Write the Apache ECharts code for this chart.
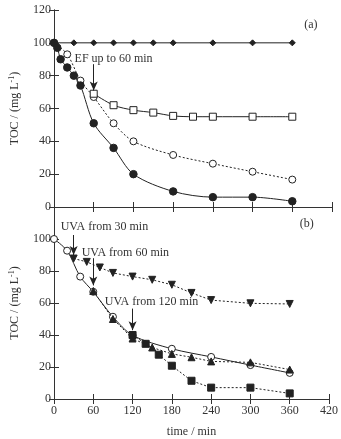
<!doctype html>
<html>
<head>
<meta charset="UTF-8">
<title>TOC decay</title>
<script src="https://cdn.jsdelivr.net/npm/echarts@6/dist/echarts.min.js"></script>
<style>
	html, body { margin: 0; padding: 0; background: #fff; }
	#chart { width: 341px; height: 439px; }
</style>
</head>
<body>
<div id="chart"></div>
<script>
	// panel (a)
	var tDiamond = [0, 30, 60, 90, 120, 150, 180, 240, 300, 360];
	var vDiamond = [100, 100, 100, 100, 100, 100, 100, 100, 100, 100];
	var tFilled = [0, 5, 10, 20, 30, 40, 60, 90, 120, 180, 240, 300, 360];
	var vFilled = [100, 97, 90, 85, 80, 74, 51, 36, 20, 9.5, 6, 6, 3.5];
	var tOpenA = [0, 20, 40, 60, 90, 120, 180, 240, 300, 360];
	var vOpenA = [100, 93, 77, 67, 51, 40, 31.7, 26.4, 21.5, 16.7];
	var tSquareA = [60, 90, 120, 150, 180, 210, 240, 300, 360];
	var vSquareA = [69, 62, 59, 57.5, 55.5, 55, 55, 55, 55];

	// panel (b)
	var tOpenB = [0, 20, 40, 60, 90, 120, 180, 240, 300, 360];
	var vOpenB = [100, 92.7, 76.5, 67, 51.4, 39.8, 31.4, 26.3, 21.2, 16.3];
	var tDown = [30, 50, 70, 90, 120, 150, 180, 210, 240, 300, 360];
	var vDown = [87.8, 85.7, 82.2, 78.8, 76.5, 74.5, 71.4, 66.3, 61.8, 59.8, 59.4];
	var tUp = [60, 90, 120, 150, 180, 210, 240, 300, 360];
	var vUp = [67.5, 50, 37.8, 32.2, 28.2, 26.1, 23.5, 22.9, 18.4];
	var tSquareB = [120, 140, 160, 180, 210, 240, 300, 360];
	var vSquareB = [40, 34.5, 27.7, 20.8, 11.4, 7.1, 7.1, 3.5];

	var xTicks = [0, 60, 120, 180, 240, 300, 360, 420];
	var yTicks = [0, 20, 40, 60, 80, 100, 120];

	// annotations: [x, yFrom, yTo] for arrows, [x, y, text] for labels
	var arrowsA = [[60, 87, 71]];
	var notesA = [[90, 90, 'EF up to 60 min'], [388, 111, '(a)']];
	var arrowsB = [[30, 102.5, 90], [60, 88, 71], [120, 56.5, 43]];
	var notesB = [[77, 107.5, 'UVA from 30 min'], [109, 91.6, 'UVA from 60 min'], [149, 61, 'UVA from 120 min'], [386, 109.5, '(b)']];

	function pairs(t, v) {
		return t.map(function (x, i) { return [x, v[i]]; });
	}

	var ink = '#222';
	var font = '"Liberation Serif", "DejaVu Serif", serif';

	function xAx(grid, pos, labels) {
		return {
			type: 'value', gridIndex: grid, position: pos,
			min: xTicks[0], max: xTicks[xTicks.length - 1], interval: 60,
			axisLine: { show: true, lineStyle: { color: '#333', width: 1 } },
			axisTick: { show: true, inside: true, length: 5, lineStyle: { color: '#333' } },
			axisLabel: { show: labels, color: '#333', fontFamily: font, fontSize: 12, margin: 6 },
			splitLine: { show: false }
		};
	}
	function yAx(grid, pos, labels) {
		return {
			type: 'value', gridIndex: grid, position: pos,
			min: yTicks[0], max: yTicks[yTicks.length - 1], interval: 20,
			axisLine: { show: true, lineStyle: { color: '#333', width: 1 } },
			axisTick: { show: true, inside: true, length: 5, lineStyle: { color: '#333' } },
			axisLabel: {
				show: labels, color: '#333', fontFamily: font, fontSize: 12, margin: 3,
				formatter: function (v) { return (grid === 1 && v === 120) ? '' : v; }
			},
			splitLine: { show: false }
		};
	}

	var xAxes = [xAx(0, 'bottom', false), xAx(0, 'top', false), xAx(1, 'bottom', true), xAx(1, 'top', false)];
	xAxes[2].name = 'time / min';
	xAxes[2].nameLocation = 'middle';
	xAxes[2].nameGap = 27;
	xAxes[2].nameTextStyle = { color: '#333', fontFamily: font, fontSize: 12 };

	var yAxes = [yAx(0, 'left', true), yAx(0, 'right', false), yAx(1, 'left', true), yAx(1, 'right', false)];
	[0, 2].forEach(function (i) {
		yAxes[i].name = 'TOC / (mg L{sup|-1})';
		yAxes[i].nameLocation = 'middle';
		yAxes[i].nameGap = 32;
		yAxes[i].nameTextStyle = {
			color: '#333', fontFamily: font, fontSize: 12,
			rich: { sup: { fontFamily: font, fontSize: 8, verticalAlign: 'top', padding: [0, 0, 6, 0], color: '#333' } }
		};
	});

	function markLines(arr) {
		return {
			silent: true, symbol: ['none', 'arrow'], symbolSize: [6, 9],
			lineStyle: { color: ink, width: 1, type: 'solid' },
			label: { show: false },
			data: arr.map(function (a) { return [{ coord: [a[0], a[1]] }, { coord: [a[0], a[2]] }]; })
		};
	}
	function markPoints(arr) {
		return {
			silent: true, symbol: 'rect', symbolSize: 0,
			label: { show: true, position: 'inside', color: '#333', fontFamily: font, fontSize: 12 },
			data: arr.map(function (a) { return { coord: [a[0], a[1]], value: a[2], label: { formatter: a[2] } }; })
		};
	}

	function line(grid, data, opts) {
		var s = {
			type: 'line', xAxisIndex: grid * 2, yAxisIndex: grid * 2, data: data,
			symbol: opts.symbol, symbolSize: opts.size, symbolRotate: opts.rotate || 0,
			smooth: opts.smooth || false,
			itemStyle: { color: opts.fill, borderColor: ink, borderWidth: 1 },
			lineStyle: { color: ink, width: 1, type: opts.dash ? [2, 2] : 'solid' },
			z: opts.z || 2, animation: false
		};
		if (opts.markLine) s.markLine = opts.markLine;
		if (opts.markPoint) s.markPoint = opts.markPoint;
		return s;
	}

	var chart = echarts.init(document.getElementById('chart'));
	chart.setOption({
		animation: false,
		grid: [
			{ left: 46, right: 9, top: 10, height: 197 },
			{ left: 46, right: 9, top: 207, height: 196 }
		],
		xAxis: xAxes,
		yAxis: yAxes,
		series: [
			line(0, pairs(tDiamond, vDiamond), { symbol: 'diamond', size: 6, fill: ink }),
			line(0, pairs(tOpenA, vOpenA), { symbol: 'circle', size: 7, fill: '#fff', dash: true, smooth: 0.3 }),
			line(0, pairs(tFilled, vFilled), { symbol: 'circle', size: 7.5, fill: ink, smooth: 0.3, z: 3 }),
			line(0, pairs(tSquareA, vSquareA), { symbol: 'rect', size: 7, fill: '#fff', smooth: 0.3, z: 4,
				markLine: markLines(arrowsA), markPoint: markPoints(notesA) }),

			line(1, pairs(tDown, vDown), { symbol: 'triangle', size: 7, rotate: 180, fill: ink, dash: true }),
			line(1, pairs(tUp, vUp), { symbol: 'triangle', size: 7, fill: ink, dash: true }),
			line(1, pairs(tSquareB, vSquareB), { symbol: 'rect', size: 7, fill: ink, dash: true }),
			line(1, pairs(tOpenB, vOpenB), { symbol: 'circle', size: 7, fill: '#fff', smooth: 0.3, z: 1,
				markLine: markLines(arrowsB), markPoint: markPoints(notesB) })
		]
	});
</script>
</body>
</html>
